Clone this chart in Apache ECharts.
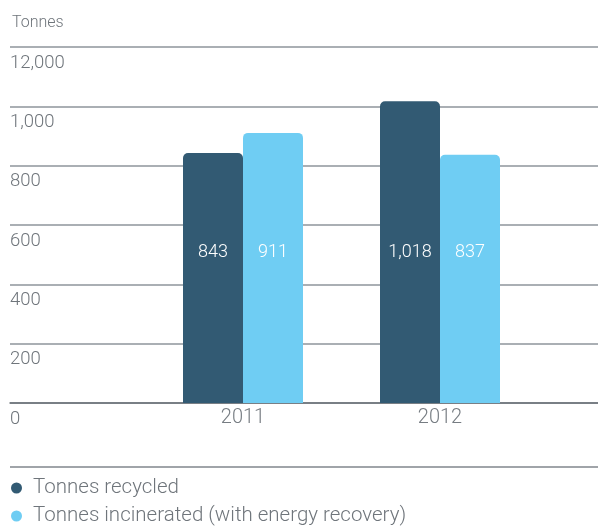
<!DOCTYPE html>
<html>
<head>
<meta charset="utf-8">
<script src="https://cdn.jsdelivr.net/npm/echarts@6/dist/echarts.min.js"></script>
<style>
  html, body { margin: 0; padding: 0; background: #fff; }
  #chart { width: 598px; height: 528px; }
</style>
</head>
<body>
<div id="chart"></div>
<script>
// Waste volumes by treatment method
const categories = ['2011', '2012'];
const tonnesRecycled = [843, 1018];
const tonnesIncinerated = [911, 837];
const yTickLabels = ['0', '200', '400', '600', '800', '1,000', '12,000'];
const seriesNames = ['Tonnes recycled', 'Tonnes incinerated (with energy recovery)'];

const FONT = 'Roboto, "Open Sans", sans-serif';
const GREY_TEXT = '#6f757b';
const DARK = '#325a73';
const LIGHT = '#6fcdf3';

const chart = echarts.init(document.getElementById('chart'), null, { renderer: 'canvas' });

const barLabel = {
  show: true,
  position: 'insideBottom',
  distance: 142,
  color: '#ffffff',
  fontFamily: FONT,
  fontWeight: 300,
  fontSize: 18,
  lineHeight: 18,
  formatter: p => p.value.toLocaleString('en-US')
};

// one legend block per row so the entries stack
const legendRow = (name, top) => ({
  orient: 'vertical',
  left: 11,
  top: top,
  padding: 0,
  icon: 'circle',
  itemWidth: 11,
  itemHeight: 11,
  data: [name],
  textStyle: { fontFamily: FONT, fontWeight: 300, fontSize: 20.5, color: GREY_TEXT, padding: [0, 0, 0, 6] }
});

chart.setOption({
  animation: false,
  title: {
    text: 'Tonnes',
    left: 7,
    top: 10,
    textStyle: { fontFamily: FONT, fontWeight: 300, fontSize: 16, color: GREY_TEXT }
  },
  legend: [legendRow(seriesNames[0], 477.5), legendRow(seriesNames[1], 505.5)],
  graphic: [{
    type: 'line',
    shape: { x1: 10, y1: 467, x2: 598, y2: 467 },
    style: { stroke: '#80868c', lineWidth: 1.5 }
  }],
  grid: [
    { left: 10, right: 0, top: 47.2, bottom: 125 },
    { left: 144.5, right: 59.5, top: 47.2, bottom: 125 }
  ],
  xAxis: [
    {
      gridIndex: 0, type: 'value', min: 0, max: 1,
      axisLine: { show: true, lineStyle: { color: '#6a7076', width: 1.5 } },
      axisTick: { show: false }, axisLabel: { show: false }, splitLine: { show: false }
    },
    {
      gridIndex: 1, type: 'category', data: categories,
      axisLine: { show: false }, axisTick: { show: false },
      axisLabel: { margin: 5, fontFamily: FONT, fontWeight: 300, fontSize: 20, color: '#767c82' }
    }
  ],
  yAxis: [
    {
      gridIndex: 0, type: 'value', min: 0, max: 1200, interval: 200,
      axisLine: { show: false }, axisTick: { show: false },
      splitLine: { lineStyle: { color: '#8e959b', width: 1.5 } },
      axisLabel: {
        inside: true, margin: 0, verticalAlign: 'top',
        padding: [7, 0, 0, 0],
        fontFamily: FONT, fontWeight: 300, fontSize: 18.5, lineHeight: 18, color: GREY_TEXT,
        formatter: v => yTickLabels[Math.round(v / 200)]
      }
    },
    {
      gridIndex: 1, type: 'value', min: 0, max: 1200, interval: 200,
      show: false
    }
  ],
  series: [
    {
      name: seriesNames[0], type: 'bar', xAxisIndex: 1, yAxisIndex: 1,
      data: tonnesRecycled, barWidth: 60, barGap: '0%',
      itemStyle: { color: DARK, borderRadius: [5, 5, 0, 0] },
      label: barLabel
    },
    {
      name: seriesNames[1], type: 'bar', xAxisIndex: 1, yAxisIndex: 1,
      data: tonnesIncinerated, barWidth: 60, barGap: '0%',
      itemStyle: { color: LIGHT, borderRadius: [5, 5, 0, 0] },
      label: barLabel
    }
  ]
});
</script>
</body>
</html>
